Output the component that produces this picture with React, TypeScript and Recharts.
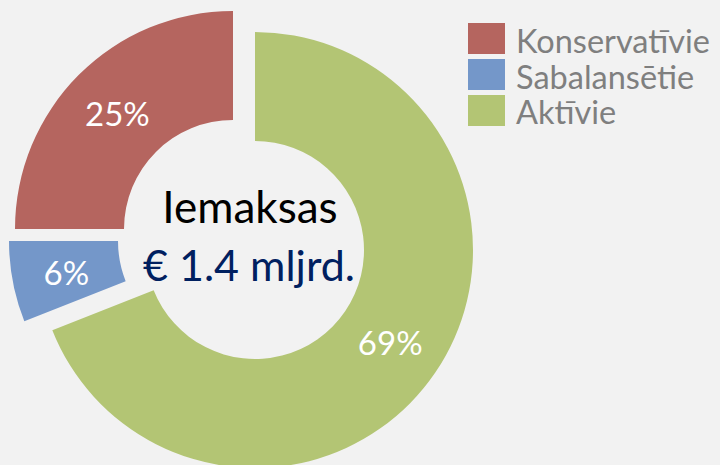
import React from 'react';
import { PieChart, Pie, Cell, Legend } from 'recharts';

const categories = ['Aktīvie', 'Sabalansētie', 'Konservatīvie'];
const values = [69, 6, 25];
const colors = ['#b3c574', '#7497c9', '#b5655f'];
const legendOrder = [2, 1, 0];
const centerTitle = 'Iemaksas';
const centerValue = '€ 1.4 mljrd.';

const data = categories.map((name, i) => ({ name, value: values[i] }));

// centres of each (exploded) slice
const centres = [
  { cx: 255, cy: 250 },
  { cx: 227, cy: 241 },
  { cx: 233, cy: 229 },
];

const FONT = 'Lato, "Noto Sans", sans-serif';
const RADIAN = Math.PI / 180;

const makeLabel = (target: number) => (props: any) => {
  const { cx, cy, midAngle, innerRadius, outerRadius, percent, index } = props;
  if (index !== target) return null;
  const r = (innerRadius + outerRadius) / 2;
  const x = cx + r * Math.cos(-midAngle * RADIAN);
  const y = cy + r * Math.sin(-midAngle * RADIAN);
  return (
    <text x={x} y={y} fill="#ffffff" textAnchor="middle" dominantBaseline="central"
      fontFamily={FONT} fontSize={33}>
      {`${Math.round(percent * 100)}%`}
    </text>
  );
};

const LegendContent = () => (
  <svg width={250} height={112} style={{ overflow: 'visible', display: 'block' }}>
    {legendOrder.map((idx, row) => (
      <g key={idx}>
        <rect x={0} y={row * 36} width={37} height={31} fill={colors[idx]} />
        <text x={48} y={row * 35.5 + 30} fill="#7f7f7f" fontFamily={FONT} fontSize={32.5}>
          {categories[idx]}
        </text>
      </g>
    ))}
  </svg>
);

export default function App() {
  return (
    <div style={{ position: 'absolute', left: 0, top: 0, width: 720, height: 465, background: '#f2f2f2' }}>
      <PieChart width={720} height={465} margin={{ top: 0, right: 0, bottom: 0, left: 0 }}>
        {[0, 1, 2].map((t) => (
          <Pie
            key={t}
            data={data}
            dataKey="value"
            nameKey="name"
            cx={centres[t].cx}
            cy={centres[t].cy}
            innerRadius={109}
            outerRadius={218}
            startAngle={90}
            endAngle={-270}
            stroke="none"
            isAnimationActive={false}
            label={makeLabel(t)}
            labelLine={false}
          >
            {data.map((d, i) => (
              <Cell key={d.name} fill={i === t ? colors[i] : 'transparent'} stroke="none" />
            ))}
          </Pie>
        ))}
        <text x={250} y={223} textAnchor="middle" fill="#000000" fontFamily={FONT} fontSize={44}>
          {centerTitle}
        </text>
        <text x={249} y={281} textAnchor="middle" fill="#002060" fontFamily={FONT} fontSize={43}>
          {centerValue}
        </text>
        <Legend
          layout="vertical"
          align="right"
          verticalAlign="top"
          content={() => <LegendContent />}
          wrapperStyle={{ left: 468, top: 23, right: 'auto', width: 250, overflow: 'visible' }}
        />
      </PieChart>
    </div>
  );
}
